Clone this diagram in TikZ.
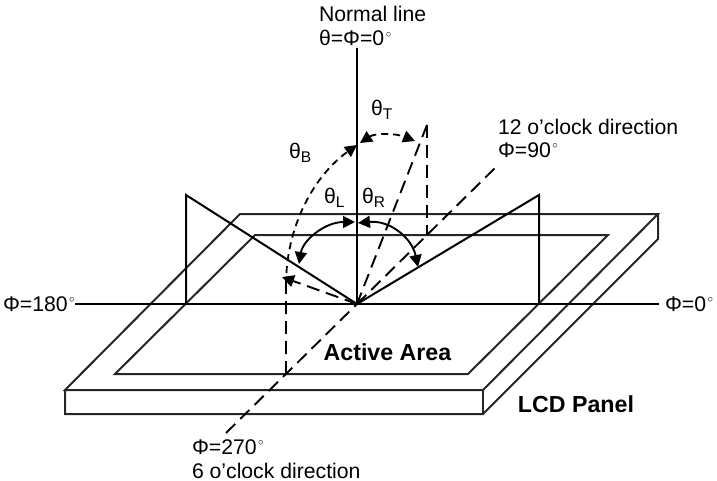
\documentclass[tikz,border=0pt]{standalone}
\usepackage{fontspec}
\setmainfont{Liberation Sans}
\usetikzlibrary{arrows.meta}
\newcommand{\dg}{\kern1.5pt\raisebox{8.5pt}{\fontsize{10.5}{10.5}\selectfont$\circ$}}
\newcommand{\subl}[1]{\raisebox{-4pt}{\fontsize{15.5}{15.5}\selectfont #1}}
\tikzset{
  every node/.style={inner sep=0pt,outer sep=0pt,font=\fontsize{21.2}{25}\selectfont},
  lbl/.style={anchor=west},
  boldlbl/.style={font=\fontsize{23.2}{27}\selectfont\bfseries},
  solidline/.style={line width=2pt,line join=miter},
  panelline/.style={line width=2pt,line join=miter,black!85},
  dashline/.style={line width=1.9pt,dash pattern=on 13pt off 7pt},
  arcdash/.style={line width=1.8pt,dash pattern=on 7pt off 5pt},
  tip/.style={-{Triangle[length=12pt,width=12pt]}},
  tips/.style={{Triangle[length=12pt,width=12pt]}-{Triangle[length=12pt,width=12pt]}}
}
\begin{document}
\begin{tikzpicture}[x=1pt,y=-1pt]
\useasboundingbox (0,0) rectangle (717,481);
% panel
\coordinate (pbl) at (240,214);
\coordinate (pbr) at (658,214);
\coordinate (pfr) at (483,390);
\coordinate (pfl) at (65,390);
\coordinate (qfl) at (65,414);
\coordinate (qfr) at (483,414);
\coordinate (qbr) at (658,239);
\draw[panelline] (pbl) -- (pbr) -- (pfr) -- (pfl) -- cycle;
\draw[panelline] (pfl) -- (qfl) -- (qfr) -- (qbr) -- (pbr);
\draw[panelline] (pfr) -- (qfr);
% active area
\coordinate (abl) at (255,235);
\coordinate (abr) at (608,235);
\coordinate (afr) at (468,374);
\coordinate (afl) at (115,374);
\draw[panelline] (abl) -- (abr) -- (afr) -- (afl) -- cycle;
% axes
\coordinate (o) at (357,304);
\coordinate (xl) at (75,304);
\coordinate (xr) at (659,304);
\coordinate (nt) at (357,48);
\draw[solidline] (xl) -- (xr);
\draw[solidline] (nt) -- (o);
% triangles
\coordinate (tl) at (186,195);
\coordinate (tlb) at (186,304);
\coordinate (tr) at (539,195);
\coordinate (trb) at (539,304);
\draw[solidline] (tlb) -- (tl) -- (o) -- (tr) -- (trb);
% dashed directions
\coordinate (d6) at (226,433);
\coordinate (d12) at (497,166);
\draw[dashline] (d6) -- (o);
\draw[dashline] (o) -- (d12);
\coordinate (p) at (427,125);
\coordinate (pb) at (427,235);
\draw[dashline] (p) -- (o);
\draw[dashline] (p) -- (pb);
\coordinate (q) at (282,277);
\coordinate (qv) at (286,285);
\coordinate (qb) at (286,374);
\draw[dashline,tip] (o) -- (q);
\draw[dashline] (qb) -- (qv);
% angle arcs
\coordinate (bt) at (357,145);
\draw[arcdash,tip] (qv) .. controls (286,225) and (315,175) .. (bt);
\coordinate (tts) at (360,143);
\coordinate (tte) at (415,141);
\draw[arcdash,tips] (tts) .. controls (375,133) and (395,133) .. (tte);
\coordinate (ls) at (355,222);
\coordinate (le) at (299,264);
\draw[line width=1.9pt,tips] (ls) .. controls (325,222) and (303,240) .. (le);
\coordinate (rs) at (358,223);
\coordinate (re) at (418,267);
\draw[line width=1.9pt,tips] (rs) .. controls (390,220) and (412,238) .. (re);
% labels
\node[lbl] (n1) at (319,14) {Normal line};
\node[lbl] (n2) at (319,38) {θ=Φ=0\dg};
\node[lbl] (tT) at (371,110) {θ\subl{T}};
\node[lbl] (tB) at (289,153) {θ\subl{B}};
\node[lbl] (tL) at (324,198) {θ\subl{L}};
\node[lbl] (tR) at (362,198) {θ\subl{R}};
\node[lbl] (c12) at (498,127) {12 o’clock direction};
\node[lbl] (p90) at (498,150) {Φ=90\dg};
\node[lbl] (p180) at (3,304) {Φ=180\dg};
\node[lbl] (p0) at (665,304) {Φ=0\dg};
\node[lbl] (p270) at (192,447) {Φ=270\dg};
\node[lbl] (c6) at (192,470.5) {6 o’clock direction};
\node[boldlbl] (aa) at (387.5,352) {Active Area};
\node[boldlbl] (lcd) at (576,404) {LCD Panel};
\end{tikzpicture}
\end{document}
